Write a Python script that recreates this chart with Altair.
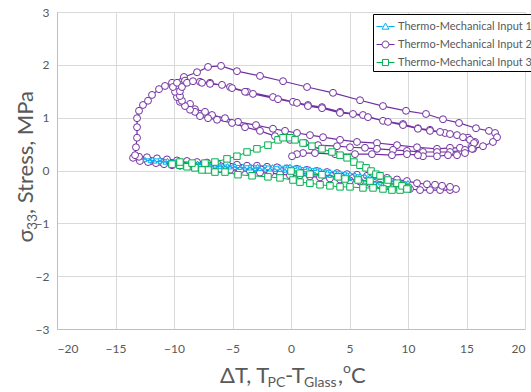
import altair as alt
import pandas as pd

# ---------------------------------------------------------------------------
# Series definitions
# ---------------------------------------------------------------------------
NAMES = [
    "Thermo-Mechanical Input 1",
    "Thermo-Mechanical Input 2",
    "Thermo-Mechanical Input 3",
]
COLORS = ["#00B0F0", "#7030A0", "#00B050"]

# Input 1: narrow hysteresis band (temperature difference, stress)
in1_x = [
    -12.48, -11.84, -11.20, -10.56, -9.91, -9.27, -8.63, -7.99, -7.35, -6.71,
    -6.07, -5.43, -4.79, -4.15, -3.50, -2.86, -2.22, -1.58, -0.94, -0.51,
    -0.09, 0.34, 0.77, 1.20, 1.62, 2.05, 2.48, 2.91, 3.33, 3.76,
    4.19, 4.62, 5.04, 5.47, 5.90, 6.32, 6.75, 7.18, 7.61, 8.03,
    8.46, 8.89, 9.32, 10.00,
    9.66, 9.32, 8.89, 8.46, 8.03, 7.61, 7.18, 6.75, 6.32, 5.90,
    5.47, 5.04, 4.62, 4.19, 3.76, 3.33, 2.91, 2.48, 2.05, 1.62,
    1.20, 0.77, 0.34, -0.09, -0.51, -0.94, -1.37, -1.79, -2.22, -2.65,
    -3.07, -3.50, -3.93, -4.36, -4.79, -5.21, -5.64, -6.07, -6.50, -6.92,
    -7.35, -7.78, -8.21, -8.63, -9.06, -9.49, -9.91, -10.34, -10.77, -11.20,
    -11.62, -12.05, -12.48,
]
in1_y = [
    0.22, 0.22, 0.22, 0.20, 0.18, 0.17, 0.16, 0.15, 0.14, 0.12,
    0.11, 0.10, 0.10, 0.09, 0.09, 0.09, 0.09, 0.08, 0.08, 0.08,
    0.09, 0.07, 0.06, 0.05, 0.04, 0.03, 0.02, 0.00, -0.01, -0.02,
    -0.03, -0.04, -0.06, -0.07, -0.09, -0.10, -0.11, -0.12, -0.14, -0.16,
    -0.18, -0.19, -0.20, -0.22,
    -0.25, -0.26, -0.25, -0.25, -0.24, -0.24, -0.23, -0.22, -0.21, -0.19,
    -0.18, -0.16, -0.15, -0.13, -0.12, -0.10, -0.09, -0.07, -0.06, -0.04,
    -0.04, -0.03, -0.02, -0.01, 0.00, 0.01, 0.01, 0.02, 0.02, 0.03,
    0.03, 0.04, 0.04, 0.05, 0.05, 0.06, 0.06, 0.07, 0.08, 0.09,
    0.09, 0.10, 0.11, 0.11, 0.12, 0.12, 0.13, 0.14, 0.15, 0.16,
    0.17, 0.18, 0.20,
]

# Input 2: multi-cycle loop
in2_x = [
    # band, first pass to the cold end
    0.00, -0.85, -1.71, -2.56, -3.42, -4.27, -5.13, -5.98, -6.84, -7.69,
    -8.55, -9.40, -10.26, -11.11, -11.97, -12.82, -13.50,
    # band, lower row to the hot end
    -12.91, -12.22, -11.54, -10.85, -10.17, -9.49, -8.63, -7.78, -6.92, -6.07,
    -5.21, -4.36, -3.50, -2.65, -1.79, -0.94, -0.09, 0.77, 1.62, 2.48,
    3.33, 4.19, 5.04, 5.90, 6.75, 7.61, 8.46, 9.32, 10.17, 11.03,
    11.88, 12.74, 13.59, 14.10,
    # band, upper row back to the cold end
    13.59, 12.91, 12.31, 11.62, 10.77, 9.91, 9.06, 8.21, 7.35, 6.50,
    5.64, 4.79, 3.93, 3.08, 2.22, 1.37, 0.51, -0.34, -1.20, -2.05,
    -2.91, -3.76, -4.62, -5.47, -6.32, -7.18, -8.03, -8.89, -9.74, -10.60,
    -11.45, -12.31, -12.99,
    # cold dwell and outer heating branch
    -13.33, -13.25, -13.16, -13.16, -13.16, -12.99, -12.65, -12.22, -11.88, -11.28,
    -10.77, -10.17, -9.15, -8.03, -7.09, -5.98, -4.62, -2.65, -0.68, 1.37,
    3.59, 5.90, 7.86, 9.83, 11.54, 12.99, 14.36, 15.81, 16.92, 17.44,
    17.61,
    # outer cooling branch
    17.26, 16.41, 15.56, 14.44, 13.59, 12.48, 10.77, 9.06, 7.35, 5.64,
    4.19, 2.74, 1.62, 0.51, -0.51, -1.54, -2.99, -4.53, -5.64, -6.75,
    -7.35, -8.21, -8.63, -9.49, -9.74, -9.91, -10.09,
    # second heating branch
    -9.74, -9.06, -7.78, -6.92, -5.21, -3.76, -1.54, 0.17, 1.45, 2.65,
    4.19, 6.15, 7.86, 9.57, 10.85, 11.88, 13.16, 14.19, 15.13, 15.73,
    # second cooling branch
    15.47, 14.87, 13.59, 12.48, 11.28, 9.91, 8.72, 7.35, 6.32, 5.04,
    3.93, 2.31, 1.20, -0.09, -1.37, -2.65, -3.93, -5.04, -6.32, -7.09,
    -7.78, -8.21, -8.63, -9.06, -9.32, -9.49, -9.49, -9.32, -8.89, -8.38,
    # third heating branch and final cooling
    -7.61, -6.92, -5.90, -5.04, -3.93, -3.25, -1.11, 0.51, 1.45, 2.65,
    4.19, 5.30, 6.58, 8.29, 9.57, 10.85, 11.88, 12.74, 13.59, 14.70,
    15.30, 15.64, 15.47, 14.87, 14.19, 13.42, 12.48, 11.28, 10.85, 9.91,
    8.63, 6.92, 5.47, 3.76, 2.05, 1.03, 0.51, 0.09,
]
in2_y = [
    -0.03, -0.01, 0.01, 0.02, 0.04, 0.05, 0.07, 0.08, 0.09, 0.10,
    0.12, 0.13, 0.14, 0.16, 0.18, 0.21, 0.24,
    0.18, 0.16, 0.14, 0.12, 0.10, 0.09, 0.08, 0.06, 0.04, 0.03,
    0.01, 0.00, -0.02, -0.04, -0.05, -0.07, -0.09, -0.09, -0.11, -0.13,
    -0.15, -0.17, -0.19, -0.21, -0.24, -0.27, -0.29, -0.32, -0.35, -0.37,
    -0.37, -0.37, -0.37, -0.35,
    -0.31, -0.29, -0.27, -0.26, -0.24, -0.20, -0.17, -0.14, -0.12, -0.10,
    -0.08, -0.07, -0.05, -0.03, -0.01, 0.01, 0.03, 0.04, 0.06, 0.07,
    0.09, 0.09, 0.11, 0.12, 0.14, 0.15, 0.16, 0.18, 0.19, 0.21,
    0.23, 0.25, 0.26,
    0.29, 0.44, 0.62, 0.82, 0.99, 1.13, 1.24, 1.32, 1.43, 1.54,
    1.60, 1.66, 1.77, 1.86, 1.96, 1.98, 1.88, 1.79, 1.69, 1.58,
    1.47, 1.33, 1.22, 1.13, 1.07, 0.97, 0.90, 0.80, 0.75, 0.71,
    0.63,
    0.54, 0.46, 0.41, 0.43, 0.43, 0.41, 0.44, 0.48, 0.52, 0.54,
    0.58, 0.63, 0.67, 0.71, 0.75, 0.79, 0.86, 0.92, 0.99, 1.05,
    1.11, 1.16, 1.26, 1.30, 1.39, 1.49, 1.58,
    1.66, 1.70, 1.68, 1.66, 1.58, 1.49, 1.39, 1.30, 1.24, 1.20,
    1.11, 1.05, 0.94, 0.88, 0.80, 0.77, 0.71, 0.67, 0.62, 0.54,
    0.46, 0.39, 0.35, 0.35, 0.35, 0.37, 0.39, 0.41, 0.43, 0.44,
    0.46, 0.48, 0.52, 0.58, 0.65, 0.75, 0.82, 0.90, 0.96, 0.99,
    1.03, 1.11, 1.15, 1.22, 1.32, 1.41, 1.50, 1.58, 1.66, 1.69,
    1.66, 1.64, 1.62, 1.56, 1.49, 1.45, 1.35, 1.28, 1.22, 1.18,
    1.09, 1.07, 1.01, 0.92, 0.86, 0.79, 0.75, 0.73, 0.69, 0.63,
    0.58, 0.52, 0.41, 0.33, 0.29, 0.29, 0.27, 0.27, 0.29, 0.31,
    0.29, 0.31, 0.31, 0.31, 0.33, 0.33, 0.31, 0.27,
]

# Input 3: single loop
in3_x = [
    0.00, 0.77, 1.62, 2.65, 4.02, 4.62, 5.73, 6.75, 8.21, 9.15,
    10.00,
    9.32, 8.63, 7.86, 7.01, 6.15, 5.04, 4.19, 3.33, 2.48, 1.62,
    0.77, 0.17, -0.94, -1.97, -3.33, -4.53, -5.64, -6.50, -7.09, -7.61,
    -8.21, -8.89, -9.49, -10.17,
    -9.49, -8.46, -7.35, -6.50, -5.47, -4.62, -3.76, -2.91, -1.97, -1.11,
    -0.68, -0.09, 0.34, 1.03, 1.79, 2.65, 3.50, 4.19, 4.79, 5.38,
    5.90, 6.41, 6.84, 7.26, 7.61, 8.29, 9.06, 9.49, 9.91,
]
in3_y = [
    -0.01, -0.05, -0.07, -0.08, -0.12, -0.16, -0.18, -0.20, -0.24, -0.27,
    -0.33,
    -0.37, -0.37, -0.35, -0.33, -0.33, -0.31, -0.31, -0.29, -0.27, -0.24,
    -0.22, -0.18, -0.14, -0.12, -0.10, -0.08, -0.03, -0.03, 0.01, 0.01,
    0.05, 0.07, 0.10, 0.12,
    0.16, 0.14, 0.14, 0.16, 0.22, 0.27, 0.35, 0.41, 0.48, 0.58,
    0.62, 0.62, 0.58, 0.52, 0.46, 0.41, 0.35, 0.29, 0.24, 0.16,
    0.10, 0.05, -0.01, -0.07, -0.10, -0.18, -0.24, -0.29, -0.35,
]

# Legend glyphs: marker with a short line through it (unit square coordinates)
LEGEND_PATHS = [
    "M-1,0H-0.32M0.32,0H1M0,-0.38L0.38,0.3L-0.38,0.3Z",
    "M-1,0H-0.38M0.38,0H1M0.38,0A0.38,0.38,0,1,1,-0.38,0A0.38,0.38,0,1,1,0.38,0Z",
    "M-1,0H-0.34M0.34,0H1M-0.34,-0.34H0.34V0.34H-0.34Z",
]

FONT = "Lato"
TEXT_GRAY = "#595959"


def frame(name, xs, ys):
    return pd.DataFrame(
        {"series": name, "dT": xs, "stress": ys, "step": list(range(len(xs)))}
    )


frames = [frame(NAMES[0], in1_x, in1_y), frame(NAMES[1], in2_x, in2_y), frame(NAMES[2], in3_x, in3_y)]
all_df = pd.concat(frames, ignore_index=True)

x_scale = alt.Scale(domain=[-20, 20], nice=False, zero=False)
y_scale = alt.Scale(domain=[-3, 3], nice=False, zero=False)
x_axis = alt.Axis(values=list(range(-20, 21, 5)), title=None, labelPadding=14)
y_axis = alt.Axis(values=list(range(-3, 4)), title=None, labelPadding=8)

X = alt.X("dT:Q", scale=x_scale, axis=x_axis)
Y = alt.Y("stress:Q", scale=y_scale, axis=y_axis)


def series(df, color, shape, size, line_width):
    base = alt.Chart(df).encode(x=X, y=Y, order=alt.Order("step:Q"))
    line = base.mark_line(color=color, strokeWidth=line_width)
    pts = base.mark_point(
        shape=shape, size=size, filled=True, fill="white",
        stroke=color, strokeWidth=1, opacity=1,
    )
    return [line, pts]


layers = []
layers += series(frames[1], COLORS[1], "circle", 48, 1.2)
layers += series(frames[0], COLORS[0], "triangle-up", 14, 1)
layers += series(frames[2], COLORS[2], "square", 42, 1)

legend = alt.Legend(
    title=None, orient="none", legendX=316, legendY=2,
    fillColor="white", strokeColor="black", padding=3, rowPadding=3,
    symbolSize=324, symbolStrokeWidth=1, symbolOpacity=1,
    labelFont=FONT, labelFontSize=11, labelColor=TEXT_GRAY, labelOffset=3,
    labelLimit=300,
)
legend_layer = alt.Chart(all_df).mark_point(opacity=0, filled=False).encode(
    x=X, y=Y,
    color=alt.Color("series:N", scale=alt.Scale(domain=NAMES, range=COLORS), legend=legend),
    shape=alt.Shape("series:N", scale=alt.Scale(domain=NAMES, range=LEGEND_PATHS), legend=legend),
)
layers.append(legend_layer)


def label(text, x, y, size, angle=0):
    return alt.Chart(alt.Data(values=[{}])).mark_text(
        text=text, font=FONT, fontSize=size, color=TEXT_GRAY,
        align="left", baseline="alphabetic", angle=angle,
    ).encode(x=alt.value(x), y=alt.value(y))


# x-axis title: ΔT, T_PC - T_Glass, °C
layers += [
    label("ΔT, T", 163, 371, 22),
    label("PC", 210.5, 375, 14),
    label("-T", 228, 371, 22),
    label("Glass", 247, 375, 14),
    label(",", 281, 371, 22),
    label("o", 286, 361, 14),
    label("C", 294, 371, 22),
]
# y-axis title: σ_33, Stress, MPa
layers += [
    label("σ", -24, 230.5, 22, 270),
    label("33", -20, 218, 14, 270),
    label(", Stress, MPa", -24, 202, 22, 270),
]

chart = (
    alt.layer(*layers)
    .properties(
        width=468, height=317,
        padding={"left": 57, "top": 12, "right": 6, "bottom": 63},
        autosize=alt.AutoSizeParams(type="none"),
    )
    .configure_view(stroke=None)
    .configure_axis(
        labelFont=FONT, labelFontSize=12, labelColor=TEXT_GRAY,
        gridColor="#D9D9D9", gridWidth=1,
        domainColor="#BFBFBF", domainWidth=1,
        ticks=False, tickSize=0,
    )
)

chart.save("out.html", embed_options={"renderer": "svg", "actions": False})
